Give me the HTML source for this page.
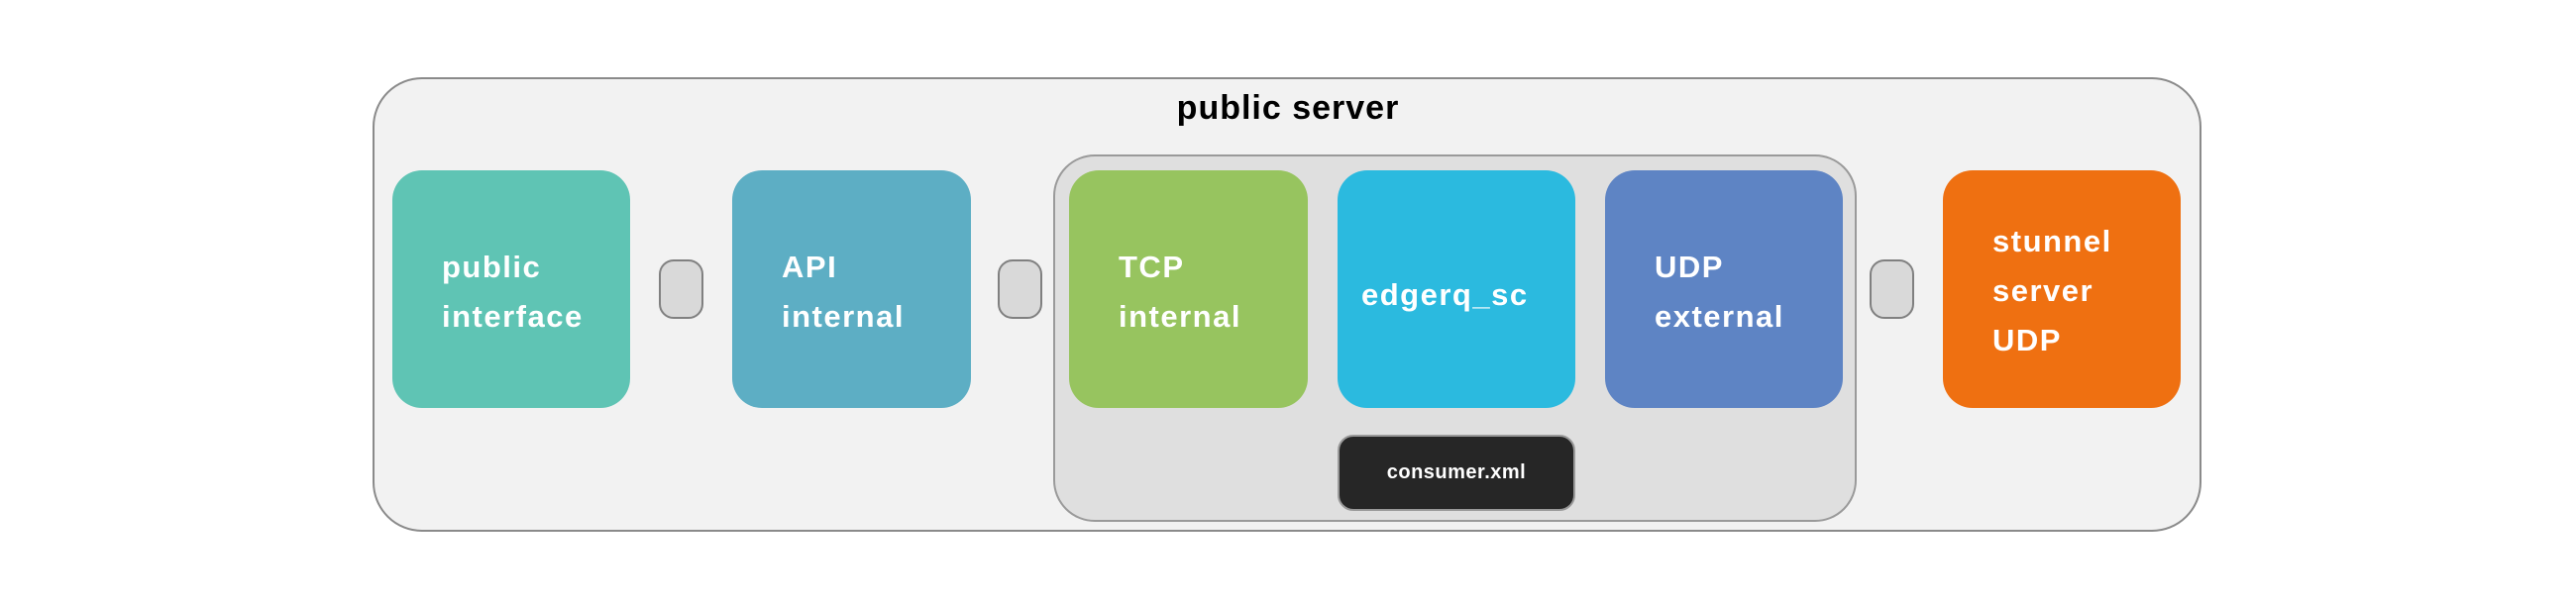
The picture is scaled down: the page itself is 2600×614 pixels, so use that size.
<!DOCTYPE html>
<html><head><meta charset="utf-8"><style>
body{margin:0;width:2600px;height:614px;background:#fff;position:relative;overflow:hidden;font-family:"Liberation Sans",sans-serif;font-weight:bold}
div{position:absolute;box-sizing:border-box}
.b{border-radius:30px;color:#fff;font-size:31px;letter-spacing:1.5px}
.b span{position:absolute;left:50px;line-height:50px;white-space:nowrap}
.c{background:#d9d9d9;border:2px solid #808080;border-radius:15px;width:45px;height:60px;top:262px}
</style></head><body>
<div style="left:376px;top:78px;width:1846px;height:459px;background:#f2f2f2;border:2px solid #8a8a8a;border-radius:50px"></div>
<div style="left:1100px;top:84px;width:400px;text-align:center;font-size:34px;color:#000;letter-spacing:1px;line-height:50px">public server</div>
<div style="left:1063px;top:156px;width:811px;height:371px;background:#dfdfdf;border:2px solid #9a9a9a;border-radius:42px"></div>
<div class="b" style="left:396px;top:172px;width:240px;height:240px;background:#5fc4b4"><span style="top:73px">public<br>interface</span></div>
<div class="c" style="left:665px"></div>
<div class="b" style="left:739px;top:172px;width:241px;height:240px;background:#5daec4"><span style="top:73px">API<br>internal</span></div>
<div class="c" style="left:1007px"></div>
<div class="b" style="left:1079px;top:172px;width:241px;height:240px;background:#97c45f"><span style="top:73px">TCP<br>internal</span></div>
<div class="b" style="left:1350px;top:172px;width:240px;height:240px;background:#2bbadf"><span style="top:101px;left:24px">edgerq_sc</span></div>
<div class="b" style="left:1620px;top:172px;width:240px;height:240px;background:#5e84c4"><span style="top:73px">UDP<br>external</span></div>
<div class="c" style="left:1887px"></div>
<div class="b" style="left:1961px;top:172px;width:240px;height:240px;background:#ef7011"><span style="top:47px">stunnel<br>server<br>UDP</span></div>
<div style="left:1350px;top:439px;width:240px;height:77px;background:#262626;border:2px solid #999;border-radius:16px;color:#fff;font-size:20px;text-align:center;line-height:73px;letter-spacing:0.5px">consumer.xml</div>
</body></html>
